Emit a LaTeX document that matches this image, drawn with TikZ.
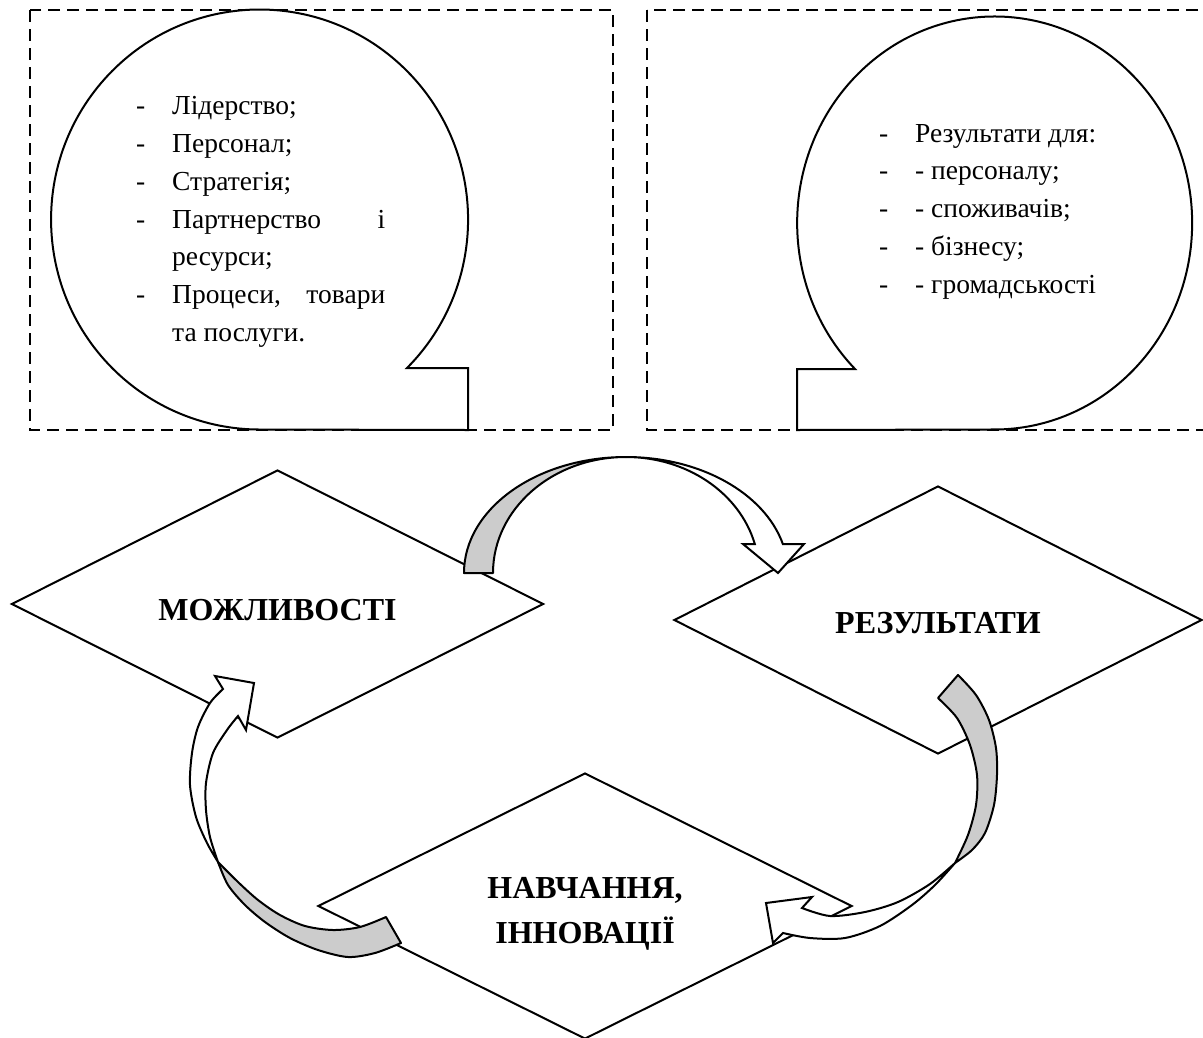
\documentclass[tikz,border=0pt]{standalone}
\usepackage{fontspec}
\setmainfont{Liberation Serif}
\newfontfamily\timesface{Liberation Serif}
\usetikzlibrary{shapes.geometric}
\definecolor{ribbon}{RGB}{204,204,204}
\definecolor{ink}{RGB}{0,0,0}
\tikzset{
    frame/.style={draw=ink, line width=2pt, dash pattern=on 12pt off 7pt},
    bubble/.style={draw=ink, line width=2pt, fill=white},
    rhomb/.style={diamond, draw=ink, line width=2pt, fill=white, inner sep=0pt, minimum width=532pt, minimum height=268pt},
    stage/.style={inner sep=0pt, align=center, font=\timesface\fontsize{32}{45}\selectfont\bfseries},
    listtext/.style={inner sep=0pt, font=\timesface\fontsize{27.5}{37.7}\selectfont},
    backband/.style={draw=ink, line width=2pt, fill=ribbon, line join=round},
    frontband/.style={draw=ink, line width=2pt, fill=white}
}
\newcommand{\dashmark}{\makebox[36pt][l]{-}}
\newcommand{\listline}{\par\noindent\hangindent=36pt\hangafter=1\dashmark}

\begin{document}
\begin{tikzpicture}[x=1pt, y=1pt]
\useasboundingbox (0,0) rectangle (1203,-1037);
% dashed frames and speech bubbles
\draw[frame] (30,-10) rectangle (613,-430);
\draw[frame] (647,-10) rectangle (1215,-430);
\filldraw[bubble] (468,-430) -- (468,-368) -- (407,-368) arc[start angle=-45, end angle=270, x radius=208.5pt, y radius=210pt] -- cycle;
\filldraw[bubble] (797,-430) -- (797,-369) -- (855,-369) arc[start angle=225, end angle=-90, x radius=197.5pt, y radius=206.5pt] -- cycle;
\node[listtext, text width=249pt, align=justify, anchor=north west] (leftlist) at (136,-77) {\listline Лідерство;\listline Персонал;\listline Стратегія;\listline Партнерство і\linebreak ресурси;\listline Процеси, товари\linebreak та послуги.\par};
\node[listtext, align=left, anchor=north west] (rightlist) at (879,-124) {\dashmark Результати для:\\ \dashmark - персоналу;\\ \dashmark - споживачів;\\ \dashmark - бізнесу;\\ \dashmark - громадськості};
% the three stages
\node[rhomb] (oppo) at (277.5,-604) {};
\node[rhomb, minimum width=528pt] (resu) at (938,-620) {};
\node[rhomb, minimum width=534pt, minimum height=266pt] (lear) at (585,-906) {};
\node[stage] (oppotext) at ([yshift=-6pt]oppo.center) {МОЖЛИВОСТІ};
\node[stage] (resutext) at ([yshift=-3pt]resu.center) {РЕЗУЛЬТАТИ};
\node[stage] (leartext) at ([yshift=-8pt]lear.center) {НАВЧАННЯ,\\ІННОВАЦІЇ};
% curved arrow: oppo -> resu
\filldraw[backband] (464,-573) arc[start angle=180, end angle=90, x radius=162pt, y radius=116pt] arc[start angle=90, end angle=180, x radius=133pt, y radius=116pt] -- cycle;
\filldraw[frontband] (626,-457) arc[start angle=90, end angle=14.48, x radius=162pt, y radius=116pt] -- (804,-544) -- (778,-573) -- (743,-544) -- (754.8,-544) arc[start angle=14.48, end angle=90, x radius=133pt, y radius=116pt] -- cycle;
% curved arrow: resu -> lear
\filldraw[backband] plot[smooth] coordinates {(958,-675) (976,-695) (989,-720) (996,-748) (997,-775) (994,-805) (985,-833) (972,-850) (955,-863)} -- plot[smooth] coordinates {(955,-863) (968,-835) (976,-805) (977,-775) (970,-745) (957,-718) (938,-698)} -- cycle;
\filldraw[frontband] plot[smooth] coordinates {(955,-863) (935,-885) (912,-905) (880,-926) (845,-938) (810,-938) (783,-933)} -- (773,-943) -- (766,-903) -- (812,-897) -- (802,-908) -- plot[smooth] coordinates {(802,-908) (830,-916) (865,-912) (898,-902) (930,-884) (955,-863)} -- cycle;
% curved arrow: lear -> oppo
\filldraw[backband] plot[smooth] coordinates {(401,-943) (375,-953) (348,-957) (318,-950) (290,-938) (265,-922) (245,-905) (228,-885) (218,-862)} -- plot[smooth] coordinates {(218,-862) (238,-882) (258,-900) (280,-915) (305,-926) (333,-930) (360,-927) (386,-917)} -- cycle;
\filldraw[frontband] plot[smooth] coordinates {(218,-862) (207,-843) (196,-817) (190,-785) (192,-753) (198,-727) (210,-703) (223,-689)} -- (215,-676) -- (254,-683) -- (246,-730) -- (238,-716) -- plot[smooth] coordinates {(238,-716) (227,-730) (213,-753) (206,-783) (206,-810) (210,-837) (218,-862)} -- cycle;
\end{tikzpicture}
\end{document}
